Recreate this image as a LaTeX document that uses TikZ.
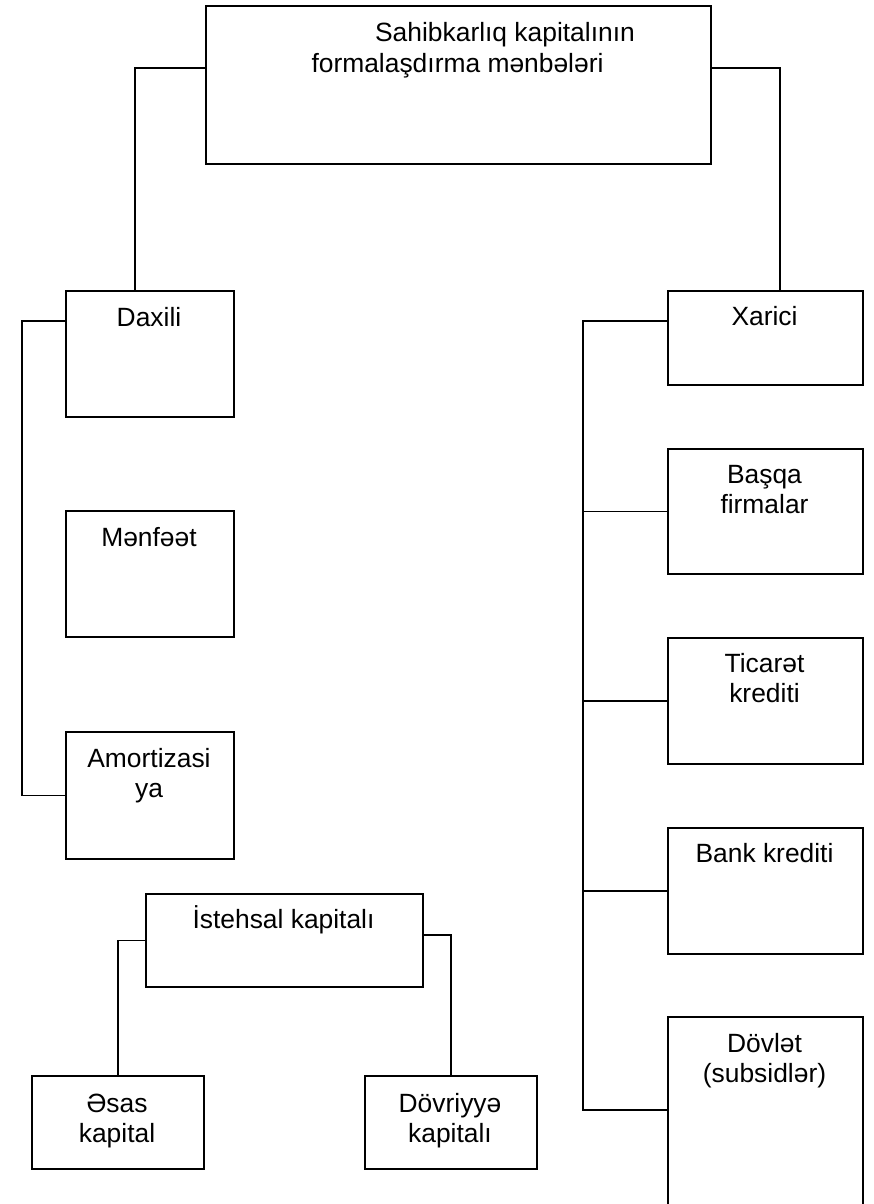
\documentclass[tikz,border=0pt]{standalone}
\usepackage{fontspec}
\setmainfont{Liberation Sans}
\begin{document}
\begin{tikzpicture}[x=0.75pt,y=-0.75pt,
  bx/.style={draw, line width=1.5pt, inner sep=0pt, anchor=north west},
  tx/.style={inner sep=0pt, anchor=base, font=\fontsize{19.8}{24}\selectfont},
  ln/.style={line width=1.25pt}]
\useasboundingbox[fill=white] (0,0) rectangle (874,1204);
% boxes
\node[bx, minimum width=505*0.75pt, minimum height=158*0.75pt] (top) at (205,5) {};
\node[bx, minimum width=168*0.75pt, minimum height=126*0.75pt] (dax) at (65,290) {};
\node[bx, minimum width=168*0.75pt, minimum height=126*0.75pt] (men) at (65,510) {};
\node[bx, minimum width=168*0.75pt, minimum height=127*0.75pt] (amo) at (65,731) {};
\node[bx, minimum width=195*0.75pt, minimum height=94*0.75pt] (xar) at (667,290) {};
\node[bx, minimum width=195*0.75pt, minimum height=125*0.75pt] (bas) at (667,448) {};
\node[bx, minimum width=195*0.75pt, minimum height=126*0.75pt] (tic) at (667,637) {};
\node[bx, minimum width=195*0.75pt, minimum height=126*0.75pt] (ban) at (667,827) {};
\node[bx, minimum width=195*0.75pt, minimum height=194*0.75pt] (dov) at (667,1016) {};
\node[bx, minimum width=277*0.75pt, minimum height=93*0.75pt] (ist) at (145,893) {};
\node[bx, minimum width=172*0.75pt, minimum height=93*0.75pt] (esa) at (31,1075) {};
\node[bx, minimum width=172*0.75pt, minimum height=93*0.75pt] (dvr) at (364,1075) {};
% texts
\node[tx] (t1a) at (505,41) {Sahibkarlıq kapitalının};
\node[tx] (t1b) at (457.5,72) {formalaşdırma mənbələri};
\node[tx] (t2) at (149,326) {Daxili};
\node[tx] (t3) at (149,546) {Mənfəət};
\node[tx] (t4a) at (149,767) {Amortizasi};
\node[tx] (t4b) at (149,797.5) {ya};
\node[tx] (t5) at (764.5,325) {Xarici};
\node[tx] (t6a) at (764.5,483) {Başqa};
\node[tx] (t6b) at (764.5,513.5) {firmalar};
\node[tx] (t7a) at (764.5,672) {Ticarət};
\node[tx] (t7b) at (764.5,702.5) {krediti};
\node[tx] (t8) at (764.5,862) {Bank krediti};
\node[tx] (t9a) at (764.5,1052) {Dövlət};
\node[tx] (t9b) at (764.5,1082.5) {(subsidlər)};
\node[tx] (t10) at (283.5,928) {İstehsal kapitalı};
\node[tx] (t11a) at (117,1112) {Əsas};
\node[tx] (t11b) at (117,1142) {kapital};
\node[tx] (t12a) at (450,1112) {Dövriyyə};
\node[tx] (t12b) at (450,1142) {kapitalı};
% spine coordinates
\coordinate (ls) at (22,557);
\coordinate (rs) at (583,700);
% connectors
\draw[ln] (top.west |- 0,68) -| (dax.north -| 135,0);
\draw[ln] (top.east |- 0,68) -| (xar.north -| 780,0);
\draw[ln] (dax.west |- 0,321) -| (ls) |- (amo.west);
\draw[ln] (xar.west |- 0,321) -| (rs) |- (dov.west |- 0,1110);
\draw[ln] (bas.west) -- ++(-84,0);
\draw[ln] (tic.west) -- ++(-84,0);
\draw[ln] (ban.west) -- ++(-84,0);
\draw[ln] (ist.west) -| (esa.north);
\draw[ln] (ist.east |- 0,935) -| (dvr.north);
\end{tikzpicture}
\end{document}
